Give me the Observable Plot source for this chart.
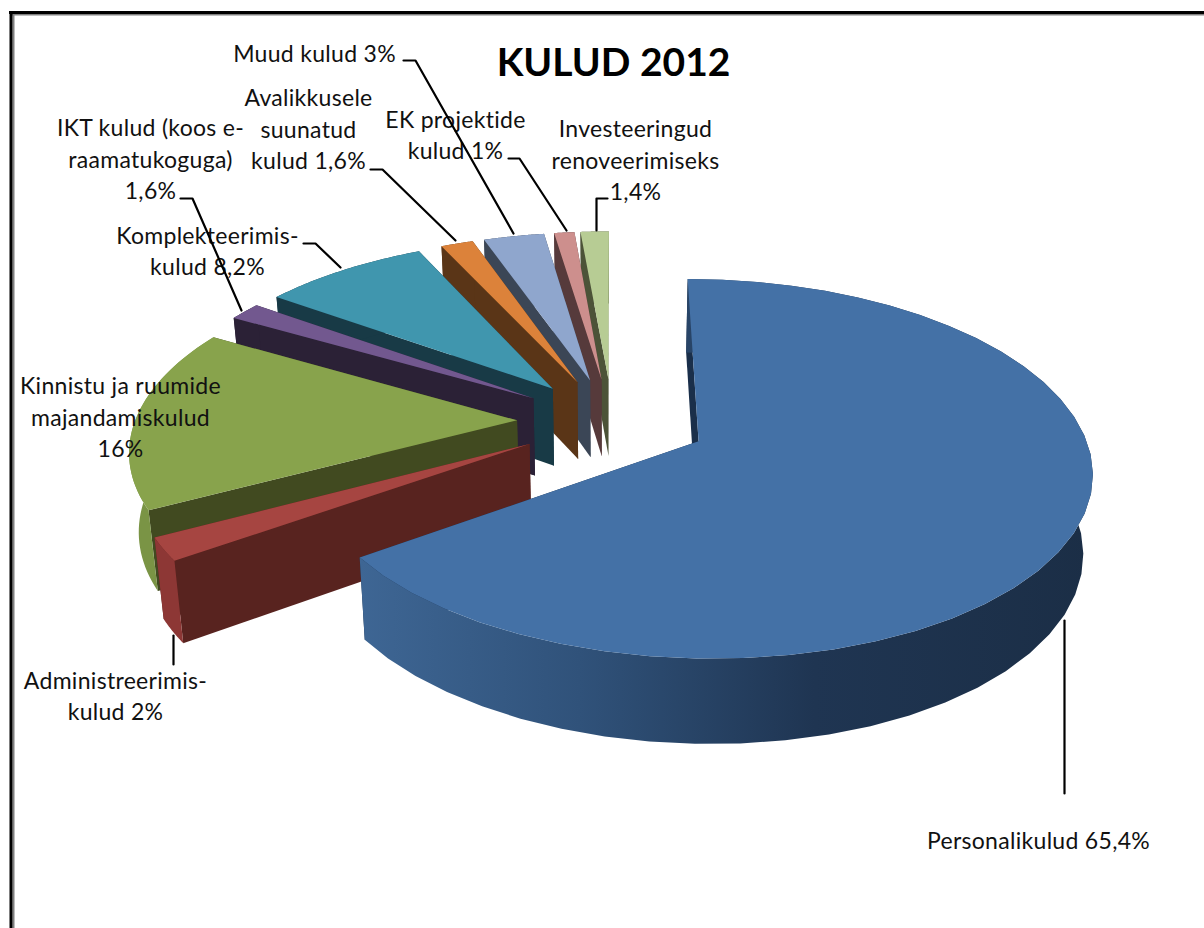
<!DOCTYPE html>
<html>
<head>
<meta charset="utf-8">
<script src="https://cdn.jsdelivr.net/npm/d3@7"></script>
<script src="https://cdn.jsdelivr.net/npm/@observablehq/plot@0.6"></script>
<style>html,body{margin:0;padding:0;background:#fff;overflow:hidden}svg{display:block}.lbl text{letter-spacing:.3px}</style>
</head>
<body>
<div id="chart"></div>
<script>
// ---- data ----
const title = "KULUD 2012";
const categories = ["Personalikulud","Administreerimiskulud","Kinnistu ja ruumide majandamiskulud","IKT kulud","Komplekteerimiskulud","Avalikkusele suunatud kulud","Muud kulud","EK projektide kulud","Investeeringud renoveerimiseks"];
const shares = [65.4, 2, 16, 1.6, 8.2, 1.6, 3, 1, 1.4];
const labels = [
  "Personalikulud 65,4%",
  "Administreerimis-\nkulud 2%",
  "Kinnistu ja ruumide\nmajandamiskulud\n16%",
  "IKT kulud (koos e-\nraamatukoguga)\n1,6%",
  "Komplekteerimis-\nkulud 8,2%",
  "Avalikkusele\nsuunatud\nkulud 1,6%",
  "Muud kulud 3%",
  "EK projektide\nkulud 1%",
  "Investeeringud\nrenoveerimiseks\n1,4%"
];
// ---- styles ----
const topColors  = ["#4471a6","#a64541","#88a34c","#72588f","#4096ae","#dc823a","#8fa6cd","#cd8f8d","#b7cc94"];
const cutColors  = ["#1a2f4a","#58231f","#414a20","#2b2136","#183a46","#5a3517","#3b4656","#563a3b","#4c5338"];
const rimColors  = ["url(#mainWall)","#8d3735","#7a9445","#2b2136","#183a46","#5a3517","#3b4656","#563a3b","#4c5338"];
// ---- layout ----
const labelX = [1038,115,120,150,207,308,314,455,635];
const labelY = [838,694,415,157,249,127,51,133,158];
const leaders = [
  [[1064,620],[1064,793]],
  [[173,635],[173,664]],
  [],
  [[180,198],[192,198],[241,310]],
  [[303,243],[315,243],[340,267]],
  [[370,169],[382,169],[455,240]],
  [[403,60],[415,60],[513,233]],
  [[508,158],[519,158],[566,230]],
  [[607,198],[596,198],[596,230]]
];
const pie = {cx:612, cy:420.5, rx:382, ry:180, explodeX:0.25, explodeY:0.24, persp:7, depth:78, depthPersp:0.5, taper:0.02};

function project(px, py, z) {
  const s = pie.persp / (pie.persp + py);
  const t = 1 - pie.taper * z;
  return {x: pie.cx + pie.rx * px * s * t, y: pie.cy - pie.ry * py * s + pie.depth * z * (1 + (s - 1) * pie.depthPersp)};
}
const total = d3.sum(shares);
const rad = d => d / total * 2 * Math.PI;
const faces = [];
let cum = 0;
const slices = shares.map((v,i) => { const a0 = rad(cum); cum += v; return {i, a0, a1: rad(cum)}; });
function addFace(id, color, pts) { pts.forEach(p => faces.push({face:id, color, x:p.x, y:p.y})); }
for (const {i,a0,a1} of slices.slice().reverse()) {
  const m = (a0+a1)/2;
  const ox = pie.explodeX*Math.sin(m), oy = pie.explodeY*Math.cos(m);
  const rim = z => d3.range(0,41).map(j => { const a = a0+(a1-a0)*j/40; return project(ox+Math.sin(a), oy+Math.cos(a), z); });
  const apex = z => project(ox, oy, z);
  const edge = a => [project(ox+Math.sin(a),oy+Math.cos(a),0), project(ox+Math.sin(a),oy+Math.cos(a),1), apex(1), apex(0)];
  addFace(i+"-e", cutColors[i], edge(a1));
  addFace(i+"-s", cutColors[i], edge(a0));
  addFace(i+"-r", rimColors[i], [...rim(0), ...rim(1).reverse()]);
  addFace(i+"-t", topColors[i], [apex(0), ...rim(0)]);
}
const labelRows = labels.map((text,i) => ({text, x:labelX[i], y:labelY[i], cat:categories[i]}));
const leaderRows = leaders.flatMap((pts,i) => pts.map(p => ({i, x:p[0], y:p[1]})));

const defs = () => {
  const d = d3.create("svg:defs");
  const g = d.append("linearGradient").attr("id","mainWall").attr("x1",0).attr("x2",1).attr("y1",0).attr("y2",0);
  [[0,"#3e6694"],[0.3,"#30527a"],[0.62,"#1f3552"],[1,"#1b2e46"]].forEach(([o,c]) => g.append("stop").attr("offset",o).attr("stop-color",c));
  return d.node();
};

const chart = Plot.plot({
  width:1204, height:928, margin:0,
  x:{domain:[0,1204], range:[0,1204], axis:null},
  y:{domain:[0,928], range:[0,928], axis:null},
  color:{type:"identity"},
  style:{background:"#fff"},
  marks:[
    defs,
    Plot.ruleX([13],{y1:12,y2:928,stroke:"#808080",strokeWidth:2}),
    Plot.ruleY([14],{x1:10,x2:1204,stroke:"#808080",strokeWidth:2}),
    Plot.ruleX([10.5],{y1:11,y2:928,stroke:"#000",strokeWidth:3}),
    Plot.ruleY([12],{x1:9,x2:1204,stroke:"#000",strokeWidth:3}),
    Plot.line(faces,{x:"x",y:"y",z:"face",fill:"color",stroke:"none",curve:"linear"}),
    Plot.text(labelRows,{x:"x",y:"y",text:"text",fontSize:23,lineHeight:1.37,fontFamily:"Lato",fill:"#111",textAnchor:"middle",lineAnchor:"middle",className:"lbl"}),
    Plot.line(leaderRows,{x:"x",y:"y",z:"i",stroke:"#000",strokeWidth:2.2,curve:"linear"}),
    Plot.text([title],{x:[613],y:[63],text:d=>d,fontSize:39,fontWeight:700,fontFamily:"Lato",fill:"#000",textAnchor:"middle",lineAnchor:"middle"})
  ]
});
document.getElementById("chart").append(chart);
</script>
</body>
</html>
